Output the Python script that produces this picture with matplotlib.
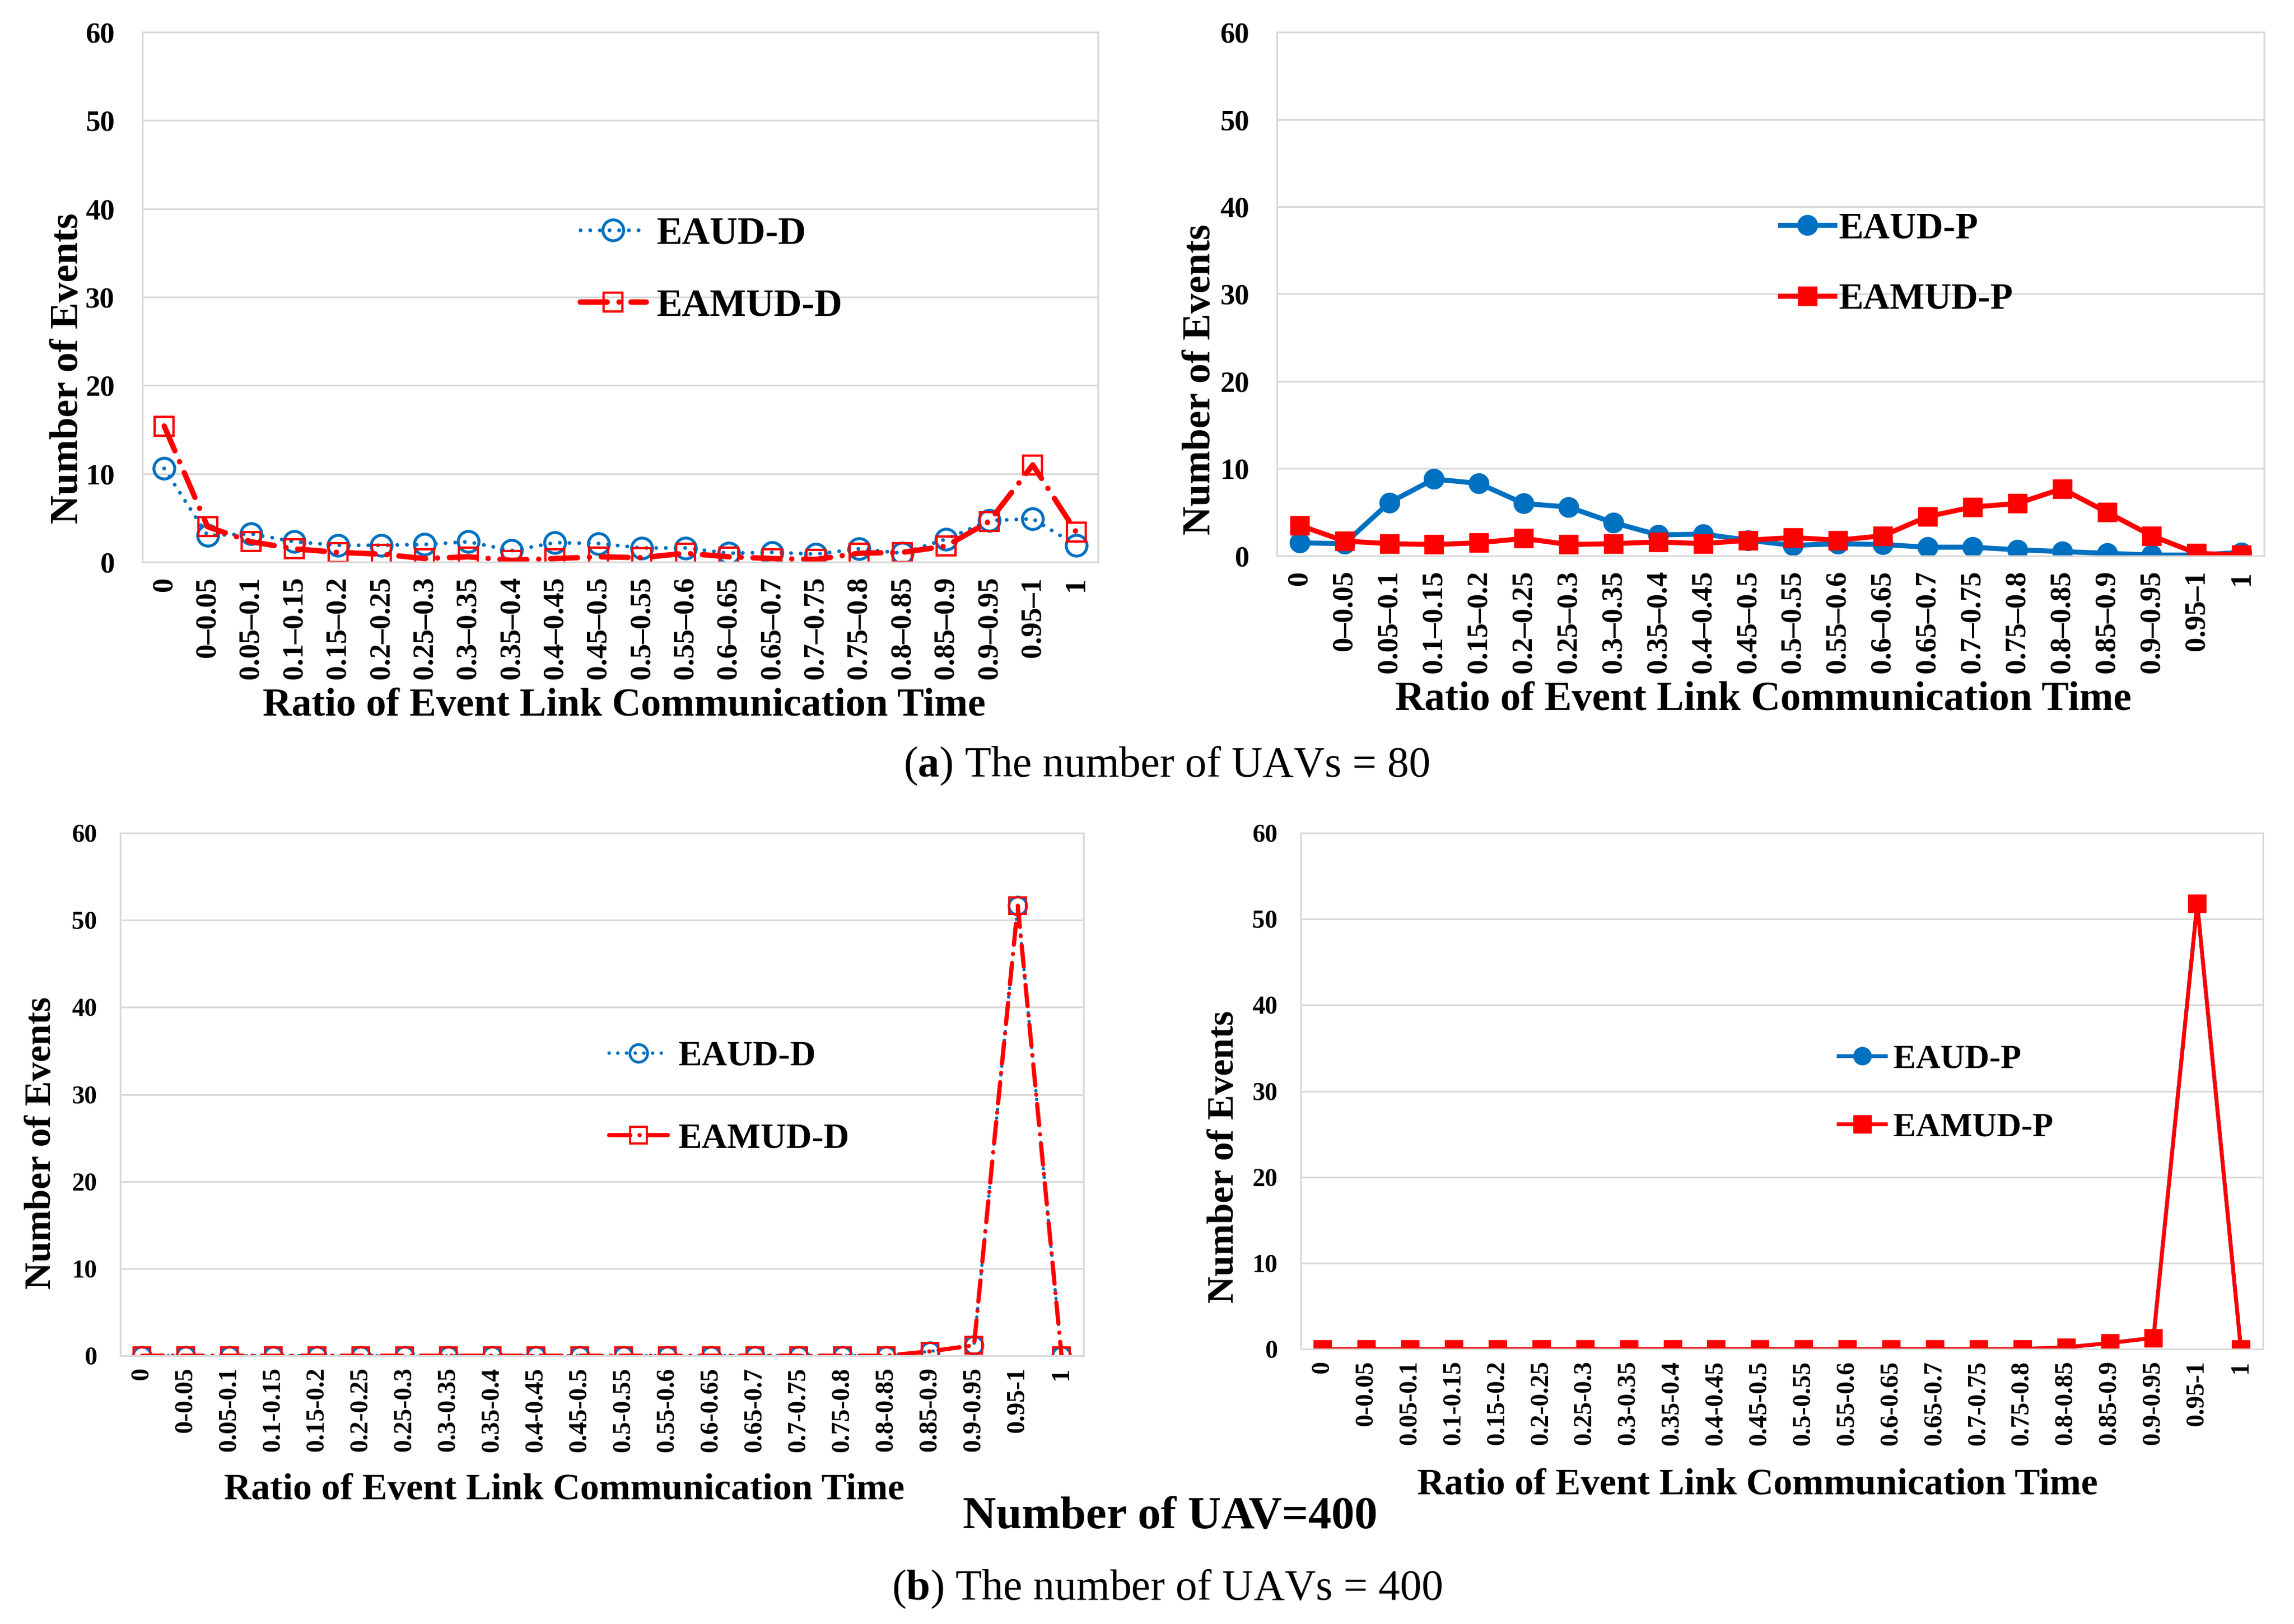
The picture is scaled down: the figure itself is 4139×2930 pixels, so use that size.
import matplotlib
matplotlib.use("Agg")
import matplotlib.pyplot as plt

plt.rcParams['font.family'] = 'Liberation Serif'
plt.rcParams['mathtext.fontset'] = 'custom'
plt.rcParams['mathtext.rm'] = 'Liberation Serif'
plt.rcParams['mathtext.bf'] = 'Liberation Serif:bold'

# categorias do eixo x
cats_a = ["0", "0–0.05", "0.05–0.1", "0.1–0.15", "0.15–0.2", "0.2–0.25",
          "0.25–0.3", "0.3–0.35", "0.35–0.4", "0.4–0.45", "0.45–0.5",
          "0.5–0.55", "0.55–0.6", "0.6–0.65", "0.65–0.7", "0.7–0.75",
          "0.75–0.8", "0.8–0.85", "0.85–0.9", "0.9–0.95", "0.95–1", "1"]
cats_b = ["0", "0-0.05", "0.05-0.1", "0.1-0.15", "0.15-0.2", "0.2-0.25",
          "0.25-0.3", "0.3-0.35", "0.35-0.4", "0.4-0.45", "0.45-0.5",
          "0.5-0.55", "0.55-0.6", "0.6-0.65", "0.65-0.7", "0.7-0.75",
          "0.75-0.8", "0.8-0.85", "0.85-0.9", "0.9-0.95", "0.95-1", "1"]

# UAVs = 80
eaud_d_80 = [10.6, 3.0, 3.2, 2.3, 1.9, 1.9, 2.0, 2.3, 1.3, 2.2, 2.1,
             1.6, 1.6, 1.0, 1.1, 0.9, 1.5, 1.0, 2.6, 4.7, 4.9, 1.9]
eamud_d_80 = [15.4, 4.0, 2.3, 1.5, 1.1, 0.9, 0.4, 0.6, 0.2, 0.4, 0.6,
              0.5, 1.0, 0.6, 0.4, 0.3, 1.0, 1.1, 1.8, 4.6, 11.0, 3.4]
eaud_p_80 = [1.5, 1.4, 6.1, 8.8, 8.3, 6.0, 5.6, 3.8, 2.4, 2.5, 1.8,
             1.2, 1.4, 1.3, 1.0, 1.0, 0.7, 0.5, 0.3, 0.1, 0.1, 0.4]
eamud_p_80 = [3.5, 1.7, 1.4, 1.3, 1.5, 2.0, 1.3, 1.4, 1.6, 1.4, 1.8,
              2.1, 1.8, 2.3, 4.5, 5.6, 6.0, 7.7, 5.0, 2.3, 0.3, 0.1]

# UAVs = 400
eaud_d_400 = [0, 0, 0, 0, 0, 0, 0, 0, 0, 0, 0,
              0, 0, 0, 0, 0, 0, 0, 0.5, 1.2, 51.7, 0]
eamud_d_400 = [0, 0, 0, 0, 0, 0, 0, 0, 0, 0, 0,
               0, 0, 0, 0, 0, 0, 0, 0.5, 1.2, 51.7, 0]
eaud_p_400 = [0, 0, 0, 0, 0, 0, 0, 0, 0, 0, 0,
              0, 0, 0, 0, 0, 0, 0.2, 0.7, 1.3, 51.8, 0]
eamud_p_400 = [0, 0, 0, 0, 0, 0, 0, 0, 0, 0, 0,
               0, 0, 0, 0, 0, 0, 0.2, 0.7, 1.3, 51.8, 0]

azul = '#0070C0'
vermelho = '#FF0000'
cinza = '#D9D9D9'

fig = plt.figure(figsize=(41.39, 29.30), dpi=100)


def prepara_eixo(ax, cats, fs_tick, fs_xl, fs_yl, pad_x, pad_y, xl_pos, yl_pos):
    x = range(len(cats))
    ax.set_xlim(-0.5, len(cats) - 0.5)
    ax.set_ylim(0, 60)
    ax.set_yticks(range(0, 61, 10))
    ax.set_xticks(list(x))
    ax.set_xticklabels(cats, rotation=90, fontsize=fs_tick, fontweight='bold')
    for t in ax.get_yticklabels():
        t.set_fontsize(fs_tick)
        t.set_fontweight('bold')
    ax.tick_params(axis='x', length=0, pad=pad_x)
    ax.tick_params(axis='y', length=0, pad=pad_y)
    ax.grid(True, axis='y', color=cinza, linewidth=2.2)
    ax.set_axisbelow(True)
    for s in ax.spines.values():
        s.set_color(cinza)
        s.set_linewidth(2.2)
    ax.text(xl_pos[0], xl_pos[1], "Ratio of Event Link Communication Time",
            transform=ax.transAxes, ha='center', va='center',
            fontsize=fs_xl, fontweight='bold')
    ax.text(yl_pos[0], yl_pos[1], "Number of Events", rotation=90,
            transform=ax.transAxes, ha='center', va='center',
            fontsize=fs_yl, fontweight='bold')
    return list(x)


pontilhado = (0, (0.01, 2.5))
traco_ponto = (0, (5, 2.2, 0.01, 2.2))

# (a) esquerda
ax1 = fig.add_axes([0.0621, 0.6539, 0.4165, 0.3263])
x = prepara_eixo(ax1, cats_a, 38, 52, 52, 19, 36, (0.504, -0.271), (-0.078, 0.366))
ax1.plot(x, eaud_d_80, color=azul, linestyle=pontilhado, dash_capstyle='round',
         linewidth=5, marker='o', markersize=27, markerfacecolor='none',
         markeredgewidth=3.8, markeredgecolor=azul, label='EAUD-D')
ax1.plot(x, eamud_d_80, color=vermelho, linestyle=traco_ponto, dash_capstyle='round',
         linewidth=7, marker='s', markersize=25, markerfacecolor='none',
         markeredgewidth=3, markeredgecolor=vermelho, label='EAMUD-D')
ax1.legend(loc='center left', bbox_to_anchor=(0.458, 0.551), frameon=False,
           prop={'weight': 'bold', 'size': 50}, handlelength=1.72,
           handletextpad=0.27, labelspacing=0.95, borderpad=0, borderaxespad=0)

# (a) direita
ax2 = fig.add_axes([0.5567, 0.6577, 0.4302, 0.3225])
x = prepara_eixo(ax2, cats_a, 38, 53, 52, 19, 36, (0.4925, -0.275), (-0.078, 0.337))
ax2.plot(x, eaud_p_80, color=azul, linewidth=6.5, marker='o', markersize=26,
         label='EAUD-P')
ax2.plot(x, eamud_p_80, color=vermelho, linewidth=6.5, marker='s', markersize=24,
         label='EAMUD-P')
ax2.legend(loc='center left', bbox_to_anchor=(0.51, 0.557), frameon=False,
           prop={'weight': 'bold', 'size': 48}, handlelength=1.47,
           handletextpad=0.12, labelspacing=1.0, borderpad=0, borderaxespad=0)

# (b) esquerda
ax3 = fig.add_axes([0.0524, 0.1652, 0.4199, 0.3218])
x = prepara_eixo(ax3, cats_b, 33, 49, 49, 15, 30, (0.461, -0.257), (-0.082, 0.407))
ax3.plot(x, eaud_d_400, color=azul, linestyle=pontilhado, dash_capstyle='round',
         linewidth=4.5, marker='o', markersize=23, markerfacecolor='none',
         markeredgewidth=3.5, markeredgecolor=azul, label='EAUD-D')
ax3.plot(x, eamud_d_400, color=vermelho, linestyle=traco_ponto, dash_capstyle='round',
         linewidth=5.5, marker='s', markersize=22, markerfacecolor='none',
         markeredgewidth=2.8, markeredgecolor=vermelho, label='EAMUD-D')
ax3.legend(loc='center left', bbox_to_anchor=(0.5075, 0.4935), frameon=False,
           prop={'weight': 'bold', 'size': 46}, handlelength=1.66,
           handletextpad=0.29, labelspacing=1.4, borderpad=0, borderaxespad=0)

# (b) direita
ax4 = fig.add_axes([0.5670, 0.1693, 0.4194, 0.3177])
x = prepara_eixo(ax4, cats_b, 33, 49, 49, 15, 30, (0.4747, -0.264), (-0.0795, 0.372))
ax4.plot(x, eaud_p_400, color=azul, linewidth=5, marker='o', markersize=23,
         label='EAUD-P')
ax4.plot(x, eamud_p_400, color=vermelho, linewidth=5, marker='s', markersize=23,
         label='EAMUD-P')
ax4.legend(loc='center left', bbox_to_anchor=(0.559, 0.495), frameon=False,
           prop={'weight': 'bold', 'size': 44}, handlelength=1.39,
           handletextpad=0.22, labelspacing=1.1, borderpad=0, borderaxespad=0)

# legendas das figuras
fig.text(0.5086, 0.5284, r"($\mathbf{a}$) The number of UAVs = 80",
         ha='center', va='center', fontsize=56)
fig.text(0.51, 0.0658, "Number of UAV=400", ha='center', va='center',
         fontsize=60, fontweight='bold')
fig.text(0.5086, 0.0216, r"($\mathbf{b}$) The number of UAVs = 400",
         ha='center', va='center', fontsize=56)

fig.savefig("out.png", dpi=100)
